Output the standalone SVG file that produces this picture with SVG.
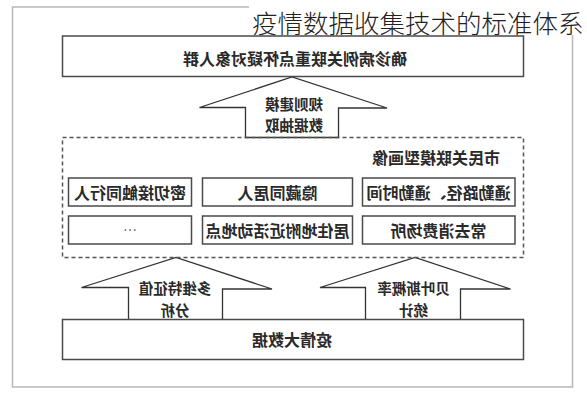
<svg xmlns="http://www.w3.org/2000/svg" width="587" height="400" viewBox="0 0 587 400">
  <style>
    .box { fill: #fff; stroke: #4a4a4a; stroke-width: 1.5; }
    .dash { fill: none; stroke: #555; stroke-width: 1.5; stroke-dasharray: 4 3; }
    .arrow { fill: #fff; stroke: #333; stroke-width: 1.3; stroke-linejoin: miter; }
    .t { font-family: "Noto Sans CJK SC", "Noto Sans", sans-serif; font-size: 16px; font-weight: bold; fill: #2a2a2a; text-anchor: middle; dominant-baseline: central; }
    .lbl { font-size: 14.5px; }
    .title { font-family: "Noto Sans CJK SC", "Noto Sans", sans-serif; font-size: 25.5px; font-weight: 300; fill: #222; dominant-baseline: central; }
  </style>
  <rect x="0" y="0" width="587" height="400" fill="#fff"/>
  <!-- outer frame -->
  <rect x="12.5" y="7" width="560" height="380" fill="none" stroke="#b8b8b8" stroke-width="1.5"/>
  <rect x="249" y="0" width="338" height="35" fill="#fff"/>
  <text class="title" x="252" y="21.7">疫情数据收集技术的标准体系</text>

  <g id="connectors">
    <path class="arrow" d="M245.5,137.5 V107.5 H199.5 L292,77 L387,108 H338.5 V137.5 Z"/>
    <path class="arrow" d="M128.5,319.5 V287.5 H81.5 L176,257.5 L272,289 H222.5 V319.5"/>
    <path class="arrow" d="M365.5,319.5 V287.5 H320 L415,257.5 L510.5,289 H460.5 V319.5"/>
    <text class="t lbl" transform="translate(294,0) scale(-1,1)"><tspan x="0" y="102.8">规则建模</tspan><tspan x="0" y="124">数据抽取</tspan></text>
    <text class="t lbl" transform="translate(175,0) scale(-1,1)"><tspan x="0" y="287.3">多维特征值</tspan><tspan x="0" y="308.5">分析</tspan></text>
    <text class="t lbl" transform="translate(413.5,0) scale(-1,1)"><tspan x="0" y="287.3">贝叶斯概率</tspan><tspan x="0" y="308.5">统计</tspan></text>
  </g>

  <g id="top-node">
    <rect class="box" x="62.5" y="36" width="461" height="40.5"/>
    <text class="t" transform="translate(295,58) scale(-1,1)">确诊病例关联重点怀疑对象人群</text>
  </g>

  <g id="portrait-group">
    <rect class="dash" x="62.5" y="137.5" width="461" height="120"/>
    <text class="t" transform="translate(436,157) scale(-1,1)">市民关联模型画像</text>
  </g>

  <g id="n-commute">
    <rect class="box" x="362.5" y="178" width="152.5" height="28"/>
    <text class="t" transform="translate(438.5,192) scale(-1,1)">通勤路径、通勤时间</text>
  </g>
  <g id="n-hidden">
    <rect class="box" x="202.5" y="178" width="150" height="28"/>
    <text class="t" transform="translate(277.5,192) scale(-1,1)">隐藏同居人</text>
  </g>
  <g id="n-contact">
    <rect class="box" x="68.5" y="178" width="123" height="28"/>
    <text class="t" transform="translate(130,192) scale(-1,1)">密切接触同行人</text>
  </g>
  <g id="n-consume">
    <rect class="box" x="362.5" y="216" width="152.5" height="28"/>
    <text class="t" transform="translate(438.5,230) scale(-1,1)">常去消费场所</text>
  </g>
  <g id="n-residence">
    <rect class="box" x="202.5" y="216" width="150" height="28"/>
    <text class="t" transform="translate(277.5,230) scale(-1,1)">居住地附近活动地点</text>
  </g>
  <g id="n-etc">
    <rect class="box" x="68.5" y="216" width="123" height="28"/>
    <text class="t" style="font-weight:normal;font-size:14px;fill:#555" transform="translate(130,229) scale(-1,1)">…</text>
  </g>

  <g id="bottom-node">
    <rect class="box" x="62.5" y="319.5" width="461" height="40"/>
    <text class="t" transform="translate(292,338.5) scale(-1,1)">疫情大数据</text>
  </g>
</svg>
